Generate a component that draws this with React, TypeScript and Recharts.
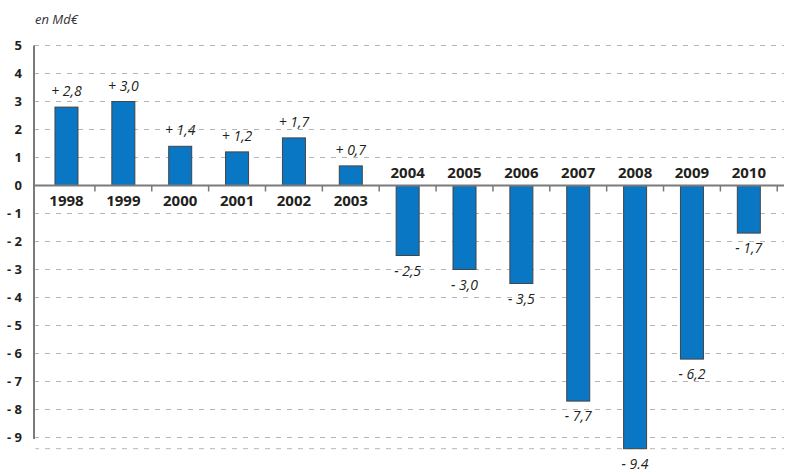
import React from 'react';
import { BarChart, Bar, XAxis, YAxis, CartesianGrid, ReferenceLine } from 'recharts';

const years = ['1998', '1999', '2000', '2001', '2002', '2003', '2004', '2005', '2006', '2007', '2008', '2009', '2010'];
const values = [2.8, 3.0, 1.4, 1.2, 1.7, 0.7, -2.5, -3.0, -3.5, -7.7, -9.4, -6.2, -1.7];
const valueLabels = ['+ 2,8', '+ 3,0', '+ 1,4', '+ 1,2', '+ 1,7', '+ 0,7', '- 2,5', '- 3,0', '- 3,5', '- 7,7', '- 9.4', '- 6,2', '- 1,7'];
const yTicks = [5, 4, 3, 2, 1, 0, -1, -2, -3, -4, -5, -6, -7, -8, -9];

const data = years.map((year, i) => ({ idx: i, year, value: values[i], label: valueLabels[i] }));

const X_DOMAIN: [number, number] = [-0.57, 12.62];
const Y_DOMAIN: [number, number] = [Math.min(...values), 5];
const TEXT = '#231f20';
const AXIS = '#7a7a7a';
const TICK_SIZE = 6;
const TICK_MARGIN = 6;

// bar + year label at the zero line + value label + boundary tick marks
const centers: number[] = [];
const BarShape = (props: any) => {
  const { x, y, width, height, payload } = props;
  const i = payload.idx;
  const top = Math.min(y, y + height);
  const bottom = Math.max(y, y + height);
  const positive = payload.value >= 0;
  const zero = positive ? bottom : top;
  const cx = x + width / 2;

  centers[i] = cx;
  const marks: number[] = [];
  if (i > 0 && centers[i - 1] !== undefined) {
    const prev = centers[i - 1];
    marks.push((prev + cx) / 2);
    if (i === values.length - 1) marks.push(cx + (cx - prev) / 2);
  }

  return (
    <g>
      <rect x={x} y={top} width={width} height={bottom - top} fill="#0a77c4" stroke="#444" strokeWidth={1} />
      {marks.map((mx) => (
        <line key={mx} x1={mx} x2={mx} y1={zero} y2={zero + 6} stroke={AXIS} strokeWidth={1.5} />
      ))}
      <text x={cx} y={positive ? zero + 20 : zero - 8} textAnchor="middle" fontWeight={700} fontSize={15} fill={TEXT}>
        {payload.year}
      </text>
      <text x={cx} y={positive ? top - 11 : bottom + 20} textAnchor="middle" fontStyle="italic" fontSize={14} fill={TEXT}>
        {payload.label}
      </text>
    </g>
  );
};

// y tick label; the lowest tick hides the axis line below -9
const YTick = (props: any) => {
  const { x, y, payload } = props;
  const v = payload.value;
  const axisX = x + TICK_SIZE + TICK_MARGIN;
  const isLast = v === yTicks[yTicks.length - 1];
  return (
    <g>
      {isLast && <line x1={axisX} x2={axisX} y1={y + 1.5} y2={y + 20} stroke="#fff" strokeWidth={3} />}
      <text x={x} y={y} dy={4.5} textAnchor="end" fontWeight={700} fontSize={13} fill={TEXT}>
        {v < 0 ? `- ${-v}` : `${v}`}
      </text>
    </g>
  );
};

export default function App() {
  return (
    <div style={{ position: 'relative', width: 787, height: 470, fontFamily: '"Open Sans", sans-serif', background: '#fff' }}>
      <style>{'body{margin:0}'}</style>
      <div style={{ position: 'absolute', left: 35, top: 10, fontStyle: 'italic', fontSize: 13, color: '#333' }}>en Md€</div>
      <BarChart
        width={787}
        height={470}
        data={data}
        margin={{ top: 45.5, right: 3, bottom: 21.3, left: 0 }}
      >
        <CartesianGrid vertical={false} strokeDasharray="5 6" stroke="#b5b5b5" />
        <XAxis type="number" dataKey="idx" domain={X_DOMAIN} allowDataOverflow hide />
        <YAxis
          width={34}
          domain={Y_DOMAIN}
          ticks={yTicks}
          interval={0}
          axisLine={{ stroke: AXIS, strokeWidth: 2 }}
          tickLine={false}
          tickSize={TICK_SIZE}
          tickMargin={TICK_MARGIN}
          tick={YTick}
        />
        <Bar dataKey="value" shape={BarShape} barSize={23} isAnimationActive={false} />
        <ReferenceLine y={0} stroke={AXIS} strokeWidth={2} />
      </BarChart>
    </div>
  );
}
